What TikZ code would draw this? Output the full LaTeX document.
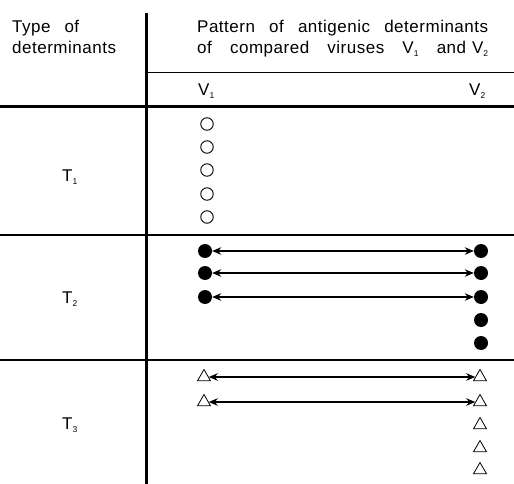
\documentclass[tikz,border=0pt]{standalone}
\usepackage{fontspec}
\setmainfont[LetterSpace=3]{Liberation Sans}
\usetikzlibrary{arrows.meta,shapes.geometric}
\newcommand{\sbs}[1]{\raisebox{-3pt}{\fontsize{8.5}{9}\selectfont #1}}
\begin{document}
\begin{tikzpicture}[x=1pt,y=-1pt,
  lbl/.style={font=\fontsize{17}{20}\selectfont, inner sep=0pt, anchor=base west},
  open/.style={circle, draw, line width=0.9pt, minimum size=12.5pt, inner sep=0pt},
  full/.style={circle, fill, minimum size=14pt, inner sep=0pt},
  tri/.style={regular polygon, regular polygon sides=3, draw, line width=0.8pt, minimum size=15pt, inner sep=0pt},
  link/.style={{Stealth[length=9pt,width=7.5pt]}-{Stealth[length=9pt,width=7.5pt]}, line width=1.1pt}]
\useasboundingbox (0,0) rectangle (514,484);
% grid
\draw[line width=3pt] (146,13) -- (146,484);
\draw[line width=0.8pt] (146,72) -- (514,72);
\draw[line width=3pt] (0,107) -- (514,107);
\draw[line width=1.5pt] (0,235) -- (514,235);
\draw[line width=1.8pt] (0,360) -- (514,360);
% headers
\node[lbl] (h1) at (12,33) {\makebox[67pt][s]{Type of}};
\node[lbl] (h2) at (12,54) {determinants};
\node[lbl] (h3) at (197,33) {\makebox[291pt][s]{Pattern of antigenic determinants}};
\node[lbl] (h4) at (197,54) {\makebox[291pt][s]{of compared viruses V\sbs{1} and\hspace{6pt}V\sbs{2}}};
\node[lbl] (v1) at (198,96) {V\sbs{1}};
\node[lbl] (v2) at (469,96) {V\sbs{2}};
\node[lbl] (t1) at (62,181) {T\sbs{1}};
\node[lbl] (t2) at (62,303) {T\sbs{2}};
\node[lbl] (t3) at (62,429) {T\sbs{3}};
% T1
\foreach \y [count=\i] in {124,147,170,194,217} \node[open] (o\i) at (207,\y) {};
% T2
\foreach \y [count=\i] in {251,273,297} \node[full] (l\i) at (205,\y) {};
\foreach \y [count=\i] in {251,273,297,320,343} \node[full] (r\i) at (481,\y) {};
\foreach \i in {1,2,3} \draw[link] (l\i) -- (r\i);
% T3
\foreach \y [count=\i] in {377,402} \node[tri] (a\i) at (204,\y) {};
\foreach \y [count=\i] in {377,402,425,448,470} \node[tri] (b\i) at (480,\y) {};
\foreach \i in {1,2} \draw[link] (a\i.east) -- (b\i.west);
\end{tikzpicture}
\end{document}
